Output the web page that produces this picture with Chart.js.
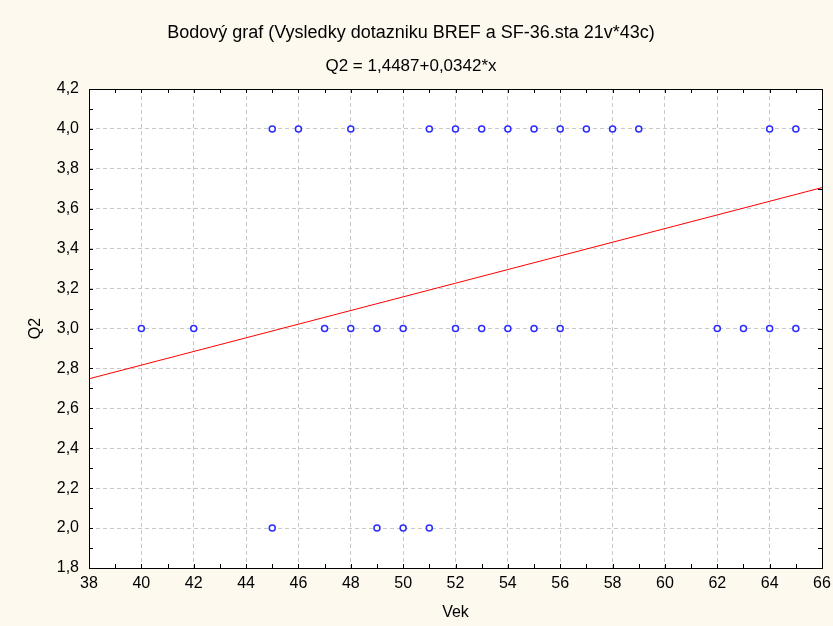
<!DOCTYPE html>
<html>
<head>
<meta charset="utf-8">
<script src="https://cdn.jsdelivr.net/npm/chart.js@4.4.0/dist/chart.umd.min.js"></script>
<style>
  html, body { margin: 0; padding: 0; background: #fdf9ef; }
  #wrap { width: 833px; height: 626px; }
</style>
</head>
<body>
<div id="wrap"><canvas id="chart" width="833" height="626"></canvas></div>
<script>
// ages (Vek) for each Q2 answer level
var ages4 = [45, 46, 48, 51, 52, 53, 54, 55, 56, 57, 58, 59, 64, 65];
var ages3 = [40, 42, 47, 48, 49, 50, 52, 53, 54, 55, 56, 62, 63, 64, 65];
var ages2 = [45, 49, 50, 51];
// fitted line Q2 = 1,4487+0,0342*x, ends read at the axis limits
var fitX = [38, 66];
var fitY = [2.748, 3.706];

var titleText = 'Bodový graf (Vysledky dotazniku BREF a SF-36.sta 21v*43c)';
var subtitleText = 'Q2 = 1,4487+0,0342*x';

function points(xs, level) {
  var pts = [];
  for (var i = 0; i < xs.length; i++) {
    pts.push({ x: xs[i], y: level });
  }
  return pts;
}

function linePoints(xs, ys) {
  var pts = [];
  for (var i = 0; i < xs.length; i++) {
    pts.push({ x: xs[i], y: ys[i] });
  }
  return pts;
}

var allPoints = points(ages4, 4).concat(points(ages3, 3), points(ages2, 2));

// backgrounds, frame and inside tick marks
var frame = {
  id: 'frame',
  beforeDraw: function(chart) {
    var ctx = chart.ctx, a = chart.chartArea;
    ctx.save();
    ctx.fillStyle = '#fdf9ef';
    ctx.fillRect(0, 0, chart.width, chart.height);
    ctx.fillStyle = '#ffffff';
    ctx.fillRect(a.left, a.top, a.right - a.left, a.bottom - a.top);
    ctx.restore();
  },
  afterDatasetsDraw: function(chart) {
    var ctx = chart.ctx, a = chart.chartArea;
    var xs = chart.scales.x, ys = chart.scales.y;
    ctx.save();
    ctx.strokeStyle = '#000000';
    ctx.lineWidth = 1;
    ctx.beginPath();
    for (var v = 38; v <= 66; v++) {
      var px = Math.round(xs.getPixelForValue(v)) + 0.5;
      ctx.moveTo(px, a.bottom); ctx.lineTo(px, a.bottom - 4);
      ctx.moveTo(px, a.top); ctx.lineTo(px, a.top + 4);
    }
    for (var k = 18; k <= 42; k++) {
      var py = Math.round(ys.getPixelForValue(k / 10)) + 0.5;
      ctx.moveTo(a.left, py); ctx.lineTo(a.left + 4, py);
      ctx.moveTo(a.right, py); ctx.lineTo(a.right - 4, py);
    }
    ctx.stroke();
    ctx.strokeRect(Math.round(a.left) + 0.5, Math.round(a.top) + 0.5,
      Math.round(a.right - a.left), Math.round(a.bottom - a.top));
    ctx.restore();
  }
};

var font = "'Liberation Sans', Arial, sans-serif";

new Chart(document.getElementById('chart').getContext('2d'), {
  type: 'scatter',
  data: {
    datasets: [
      {
        label: 'Q2',
        data: allPoints,
        pointRadius: 3,
        pointHoverRadius: 3,
        pointBorderWidth: 1.5,
        borderColor: '#2b2bff',
        backgroundColor: '#ffffff',
        showLine: false
      },
      {
        type: 'line',
        label: 'fit',
        data: linePoints(fitX, fitY),
        borderColor: '#ff0000',
        borderWidth: 1,
        pointRadius: 0,
        fill: false
      }
    ]
  },
  plugins: [frame],
  options: {
    responsive: false,
    animation: false,
    layout: { padding: { left: 0, right: 11, top: 0, bottom: 0 } },
    plugins: {
      legend: { display: false },
      tooltip: { enabled: false },
      title: {
        display: true,
        text: titleText,
        color: '#000000',
        font: { family: font, size: 18, weight: 'normal', lineHeight: 1.2 },
        padding: { top: 22, bottom: 6 }
      },
      subtitle: {
        display: true,
        text: subtitleText,
        color: '#000000',
        font: { family: font, size: 17, weight: 'normal', lineHeight: 1.2 },
        padding: { top: 7, bottom: 12 }
      }
    },
    scales: {
      x: {
        type: 'linear',
        min: 38,
        max: 66,
        afterFit: function(s) { s.height = 58; s.paddingRight = 0; s.paddingLeft = 0; },
        border: { display: false, dash: [4, 3] },
        grid: { color: '#c8c8c8', drawTicks: false },
        ticks: {
          stepSize: 2,
          color: '#000000',
          padding: 6,
          font: { family: font, size: 16 }
        },
        title: {
          display: true,
          text: 'Vek',
          color: '#000000',
          font: { family: font, size: 16, lineHeight: 1.2 },
          padding: { top: 0, bottom: 4 }
        }
      },
      y: {
        type: 'linear',
        min: 1.8,
        max: 4.2,
        afterFit: function(s) { s.width = 89; },
        border: { display: false, dash: [4, 3] },
        grid: { color: '#c8c8c8', drawTicks: false },
        ticks: {
          stepSize: 0.2,
          color: '#000000',
          padding: 10,
          font: { family: font, size: 16 },
          callback: function(v) { return v.toFixed(1).replace('.', ','); }
        },
        title: {
          display: true,
          text: 'Q2',
          color: '#000000',
          font: { family: font, size: 16, lineHeight: 1.2 },
          padding: { top: 26, bottom: 0 }
        }
      }
    }
  }
});
</script>
</body>
</html>
